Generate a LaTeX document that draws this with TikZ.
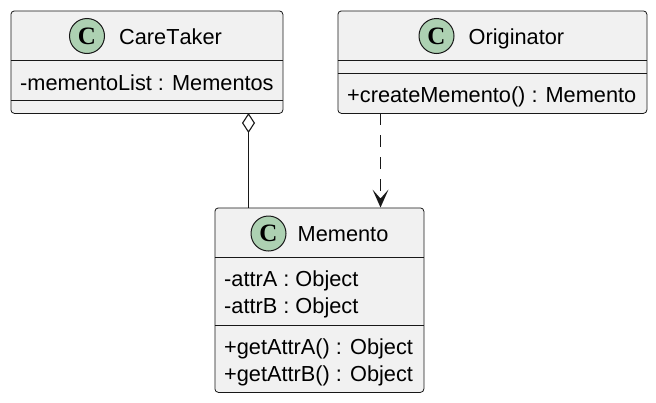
\documentclass[tikz,border=0pt]{standalone}
\usepackage{fontspec}
\setmainfont{Liberation Sans}
\newfontfamily\glyphfont{Liberation Serif}
\usetikzlibrary{arrows.meta}
\definecolor{boxfill}{HTML}{F1F1F1}
\definecolor{ink}{HTML}{181818}
\definecolor{badge}{HTML}{ADD1B2}
\tikzset{
  x=1pt,y=-1pt,
  classbox/.style={draw=ink,fill=boxfill,line width=0.8pt,rounded corners=3.5pt,inner sep=0,anchor=north west},
  sepline/.style={draw=ink,line width=0.7pt},
  badgecircle/.style={circle,draw=ink,fill=badge,line width=1pt,minimum size=35pt,inner sep=0,font=\glyphfont\bfseries\fontsize{25}{25}\selectfont},
  label/.style={anchor=base west,inner sep=0,text=black,font=\fontsize{21.75}{24}\selectfont},
  link/.style={draw=ink,line width=1.3pt},
}
\begin{document}
\begin{tikzpicture}
\useasboundingbox (0,0) rectangle (656,402);
% classes
\node[classbox,minimum width=272pt,minimum height=102.5pt] (care) at (10.5,10.5) {};
\node[classbox,minimum width=309pt,minimum height=102.5pt] (orig) at (337.5,10.5) {};
\node[classbox,minimum width=209pt,minimum height=184.5pt] (mem) at (214.5,207.5) {};
% separators
\draw[sepline] (10.5,60.5) -- (282.5,60.5);
\draw[sepline] (10.5,100.5) -- (282.5,100.5);
\draw[sepline] (337.5,60.5) -- (646.5,60.5);
\draw[sepline] (337.5,73.5) -- (646.5,73.5);
\draw[sepline] (214.5,257.5) -- (423.5,257.5);
\draw[sepline] (214.5,325.5) -- (423.5,325.5);
% badges
\node[badgecircle] (cb) at (87,36) {C};
\node[badgecircle] (ob) at (436.5,36) {C};
\node[badgecircle] (mb) at (268.5,233.5) {C};
% texts
\node[label] (t1) at (119,44.5) {\addfontfeature{Kerning=Off}CareTaker};
\node[label] (t2) at (20,90) {-mementoList : Mementos};
\node[label] (t3) at (468.5,44.5) {Originator};
\node[label] (t4) at (347,102) {+createMemento() : Memento};
\node[label] (t5) at (297.5,241.5) {Memento};
\node[label] (t6) at (224,286.5) {-attrA : Object};
\node[label] (t7) at (224,313.5) {-attrB : Object};
\node[label] (t8) at (224,354) {+getAttrA() : Object};
\node[label] (t9) at (224,381) {+getAttrB() : Object};
% connectors
\coordinate (careout) at (248.5,113);
\coordinate (memin) at (mem.north west -| careout);
\coordinate (origout) at (380.5,113);
\coordinate (memin2) at (mem.north west -| origout);
\coordinate (dashend) at ([yshift=10pt]memin2);
\draw[link,{Diamond[open,length=20pt,width=13pt,line width=1.1pt]}-] (careout) -- (memin);
\draw[link,dash pattern=on 12pt off 10pt] (origout) -- (dashend);
\fill[ink] (memin2) -- ++(-8,-18) -- ++(8,9) -- ++(8,-9) -- cycle;
\end{tikzpicture}
\end{document}
